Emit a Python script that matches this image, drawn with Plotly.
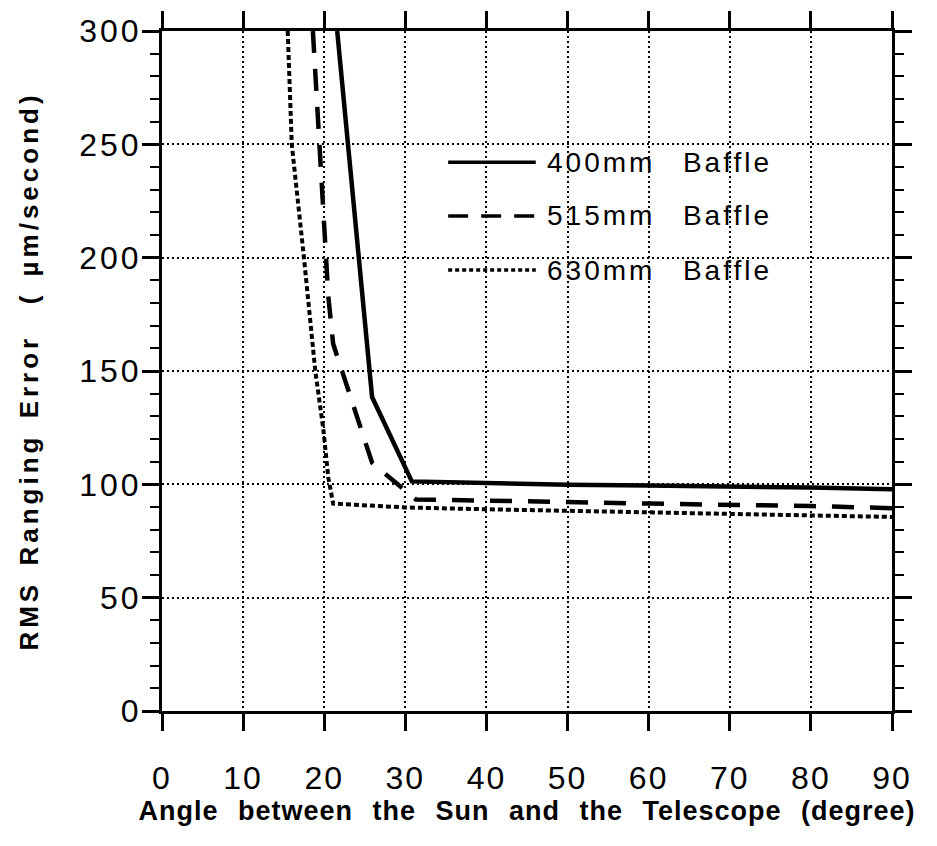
import plotly.graph_objects as go

# ---- data ----
x_400 = [21.6, 25.9, 30.8, 40, 50, 60, 70, 80, 90]
y_400 = [300, 138.5, 101.3, 100.4, 99.8, 99.5, 99.2, 98.6, 97.8]

x_515 = [18.6, 20.5, 21.1, 25.9, 31.3, 40, 50, 60, 70, 80, 90]
y_515 = [300, 183, 162, 109.5, 93.3, 92.6, 92.2, 91.5, 91.0, 90.4, 89.5]

x_630 = [15.5, 16.0, 17.5, 18.9, 19.9, 20.5, 21.1, 30, 40, 50, 60, 70, 80, 90]
y_630 = [300, 250, 200, 150, 124, 103, 91.5, 89.8, 89.0, 88.3, 87.5, 87.1, 86.4, 85.6]

series_names = ["400mm  Baffle", "515mm  Baffle", "630mm  Baffle"]
x_ticks = [0, 10, 20, 30, 40, 50, 60, 70, 80, 90]
y_ticks = [0, 50, 100, 150, 200, 250, 300]

FONT = "Liberation Sans, Arial, Helvetica, sans-serif"

fig = go.Figure()
fig.add_trace(go.Scatter(x=x_400, y=y_400, mode="lines", name=series_names[0],
                         line=dict(color="black", width=4.5)))
fig.add_trace(go.Scatter(x=x_515, y=y_515, mode="lines", name=series_names[1],
                         line=dict(color="black", width=4.5, dash="22px,16px")))
fig.add_trace(go.Scatter(x=x_630, y=y_630, mode="lines", name=series_names[2],
                         line=dict(color="black", width=4, dash="5px,3px")))

# custom legend (long line samples like the original)
leg_y = [0.807, 0.728, 0.6485]
leg_dash = ["solid", "20px,13px", "4px,3px"]
for i in range(3):
    fig.add_shape(type="line", xref="paper", yref="paper",
                  x0=0.392, x1=0.512, y0=leg_y[i], y1=leg_y[i],
                  line=dict(color="black", width=3.5, dash=leg_dash[i]))
    fig.add_annotation(x=0.524, y=leg_y[i], xref="paper", yref="paper",
                       text=series_names[i], showarrow=False, align="left",
                       xanchor="left", yanchor="middle",
                       font=dict(family=FONT, size=28, color="black"))

axis_common = dict(
    showline=True, linecolor="black", linewidth=3, mirror="allticks",
    ticks="outside", tickcolor="black", tickwidth=2.5, ticklen=17,
    showgrid=True, gridcolor="black", gridwidth=1.8, griddash="2px,3px",
    zeroline=False, automargin=False,
    tickfont=dict(family=FONT, size=32, color="black"),
)

fig.update_layout(
    width=937, height=846,
    margin=dict(l=162, r=45, t=31, b=135),
    paper_bgcolor="white", plot_bgcolor="white",
    showlegend=False,
    xaxis=dict(range=[0, 90], tickvals=x_ticks, ticklabelstandoff=20,
               title=dict(text="Angle between the Sun and the Telescope (degree)",
                          font=dict(family=FONT, size=27, color="black", weight="bold"),
                          standoff=0),
               **axis_common),
    yaxis=dict(range=[0, 300], tickvals=y_ticks, ticklabelstandoff=-6,
               minor=dict(dtick=10, tick0=0, ticks="outside", ticklen=9,
                          tickwidth=2, tickcolor="black", showgrid=False),
               title=dict(text="RMS Ranging Error  ( µm/second)",
                          font=dict(family=FONT, size=26, color="black", weight="bold"),
                          standoff=43),
               **axis_common),
)

post = """
var gd = document.getElementById('{plot_id}');
function ls(sel, v, w){
  gd.querySelectorAll(sel).forEach(function(t){
    t.style.letterSpacing = v;
    if (w) { t.style.wordSpacing = w; }
  });
}
ls('.xtick text', '2px');
ls('.ytick text', '3px');
ls('.g-xtitle text', '1px', '11px');
ls('.g-ytitle text', '4px', '4px');
ls('.annotation-text', '3px', '3px');
"""

fig.write_html("out.html", post_script=post)
